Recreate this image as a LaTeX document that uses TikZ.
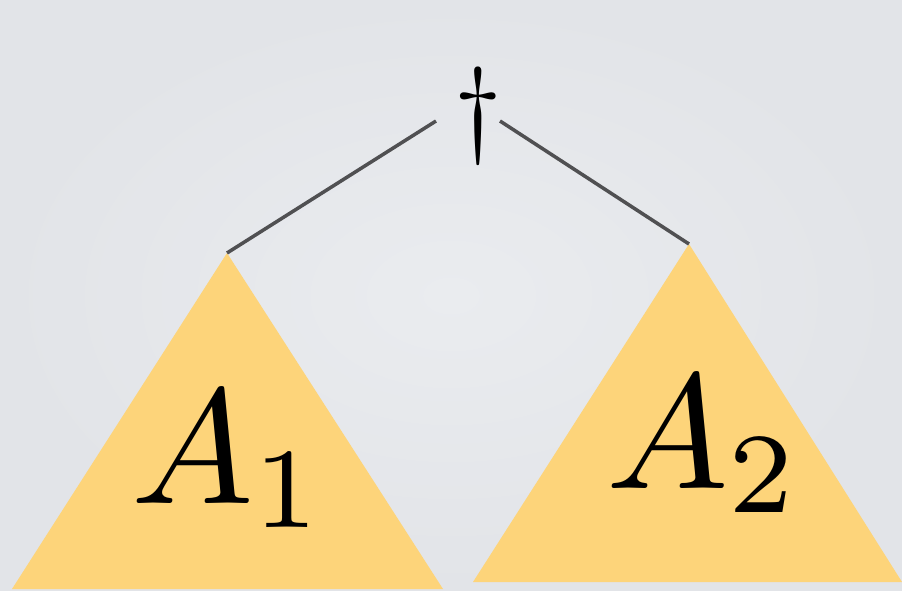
\documentclass[tikz,border=0pt]{standalone}
\usetikzlibrary{positioning}

\definecolor{bggrey}{RGB}{226,228,232}
\definecolor{bglight}{RGB}{234,236,239}
\definecolor{treeyellow}{RGB}{253,212,122}
\definecolor{edgegrey}{RGB}{80,80,82}

\begin{document}
\begin{tikzpicture}[x=0.02cm, y=-0.02cm,
        tree/.style={fill=treeyellow, draw=none},
        edge/.style={draw=edgegrey, line width=2pt},
        lab/.style={inner sep=0pt, anchor=base west, scale=9.3},
        rootlab/.style={inner sep=0pt, scale=6.1}]
      % background
      \shade[inner color=bglight, outer color=bggrey] (0,0) rectangle (902,591);
      \useasboundingbox (0,0) rectangle (902,591);
      % the two subtrees
      \coordinate (t1) at (227,253);
      \coordinate (t2) at (689,244);
      \fill[tree] (t1) -- (12,589) -- (443,589) -- cycle;
      \fill[tree] (t2) -- (473,582) -- (902,582) -- cycle;
      \node[lab] (a1) at (128,503) {$A_1$};
      \node[lab] (a2) at (603,488) {$A_2$};
      % root and its edges
      \node[rootlab] (root) at (478,116) {$\dagger$};
      \coordinate (rl) at (436,121);
      \coordinate (rr) at (500,121);
      \draw[edge] (rl) -- (t1);
      \draw[edge] (rr) -- (t2);
    \end{tikzpicture}
\end{document}
